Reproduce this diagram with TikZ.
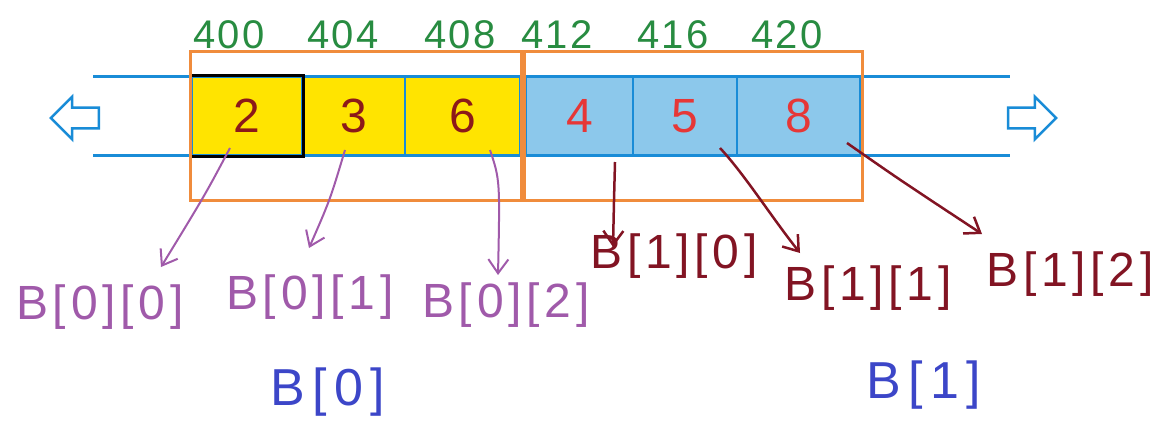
\documentclass[tikz,border=0pt]{standalone}
\usepackage{fontspec}
\setmainfont{Liberation Sans}
\usetikzlibrary{arrows.meta,shapes.arrows}
\definecolor{addrgreen}{RGB}{40,140,65}
\definecolor{boxorange}{RGB}{240,140,60}
\definecolor{lineblue}{RGB}{25,140,215}
\definecolor{cellyellow}{RGB}{255,228,0}
\definecolor{celllblue}{RGB}{140,200,235}
\definecolor{darkdigit}{RGB}{140,25,25}
\definecolor{reddigit}{RGB}{230,55,55}
\definecolor{lblpurple}{RGB}{160,90,170}
\definecolor{lbldarkred}{RGB}{130,20,35}
\definecolor{lblblue}{RGB}{60,70,200}
\begin{document}
\begin{tikzpicture}[x=1pt,y=-1pt,
  addr/.style={text=addrgreen,font=\fontsize{40}{40}\selectfont\addfontfeature{LetterSpace=6},inner sep=0pt},
  ycell/.style={draw=lineblue,line width=2.5pt,fill=cellyellow,minimum height=78pt,inner sep=0pt,text=darkdigit,font=\fontsize{48}{48}\selectfont},
  bcell/.style={draw=lineblue,line width=2.5pt,fill=celllblue,minimum height=78pt,inner sep=0pt,text=reddigit,font=\fontsize{48}{48}\selectfont},
  obox/.style={draw=boxorange,line width=3pt},
  rail/.style={draw=lineblue,line width=3pt},
  harrow/.style={single arrow,draw=lineblue,line width=2.5pt,fill=white,minimum height=48pt,inner xsep=0pt,inner ysep=9pt,single arrow head extend=11pt,single arrow head indent=0pt},
  lblfont/.style={font=\fontsize{48}{48}\selectfont\addfontfeature{LetterSpace=10},inner sep=0pt},
  plbl/.style={lblfont,text=lblpurple},
  rlbl/.style={lblfont,text=lbldarkred},
  glbl/.style={text=lblblue,font=\fontsize{52}{52}\selectfont\addfontfeature{LetterSpace=14},inner sep=0pt},
  parr/.style={draw=lblpurple,line width=2pt,-{Straight Barb[length=14pt,width=20pt,line width=2pt]}},
  rarr/.style={draw=lbldarkred,line width=2.5pt,-{Straight Barb[length=14pt,width=20pt,line width=2.5pt]}}
]
\useasboundingbox (0,0) rectangle (1166,425);

% rails
\coordinate (rtl) at (93,77);
\coordinate (rtr) at (1010,77);
\coordinate (rbl) at (93,155);
\coordinate (rbr) at (1010,155);
\draw[rail] (rtl) -- (rtr);
\draw[rail] (rbl) -- (rbr);

% cells
\node[ycell,minimum width=110pt] (c0) at (247,116) {2};
\node[ycell,minimum width=103pt] (c1) at (353.5,116) {3};
\node[ycell,minimum width=115pt] (c2) at (462.5,116) {6};
\node[bcell,minimum width=107pt] (c3) at (579.5,116) {4};
\node[bcell,minimum width=104pt] (c4) at (685,116) {5};
\node[bcell,minimum width=123pt] (c5) at (798.5,116) {8};
\draw[black,line width=3pt] (c0.north west) rectangle (c0.south east);

% orange boxes
\draw[obox] (190,52) rectangle (521,200);
\draw[obox] (524,52) rectangle (862,200);

% addresses
\node[addr] (n400) at (229,35) {400};
\node[addr] (n404) at (343,35) {404};
\node[addr] (n408) at (460,35) {408};
\node[addr] (n412) at (557,35) {412};
\node[addr] (n416) at (673,35) {416};
\node[addr] (n420) at (787,35) {420};

% hollow arrows
\node[harrow,shape border rotate=180] (la) at (80,118) {};
\node[harrow] (ra) at (1027,118) {};

% labels
\node[plbl] (b00) at (100,307) {B[0][0]};
\node[plbl] (b01) at (310,297) {B[0][1]};
\node[plbl] (b02) at (506,305) {B[0][2]};
\node[rlbl] (b10) at (674,256) {B[1][0]};
\node[rlbl] (b11) at (868,288) {B[1][1]};
\node[rlbl] (b12) at (1070,274) {B[1][2]};
\node[glbl] (g0) at (328,392) {B[0]};
\node[glbl] (g1) at (924,385) {B[1]};

% arrows from cells
\coordinate (s0) at (230,148);
\coordinate (t0) at (161,267);
\coordinate (s1) at (345,150);
\coordinate (t1) at (309,248);
\coordinate (s2) at (490,150);
\coordinate (t2) at (498,275);
\coordinate (s3) at (615,162);
\coordinate (t3) at (613,247);
\coordinate (s4) at (720,148);
\coordinate (t4) at (800,253);
\coordinate (s5) at (847,143);
\coordinate (t5) at (982,234);

\draw[parr] (s0) .. controls (205,195) .. (t0);
\draw[parr] (s1) .. controls (330,200) .. (t1);
\draw[parr] (s2) .. controls (500,180) .. (t2);
\draw[rarr] (s3) .. controls (614,200) .. (t3);
\draw[rarr] (s4) .. controls (745,175) and (770,215) .. (t4);
\draw[rarr] (s5) .. controls (900,180) .. (t5);
\end{tikzpicture}
\end{document}
